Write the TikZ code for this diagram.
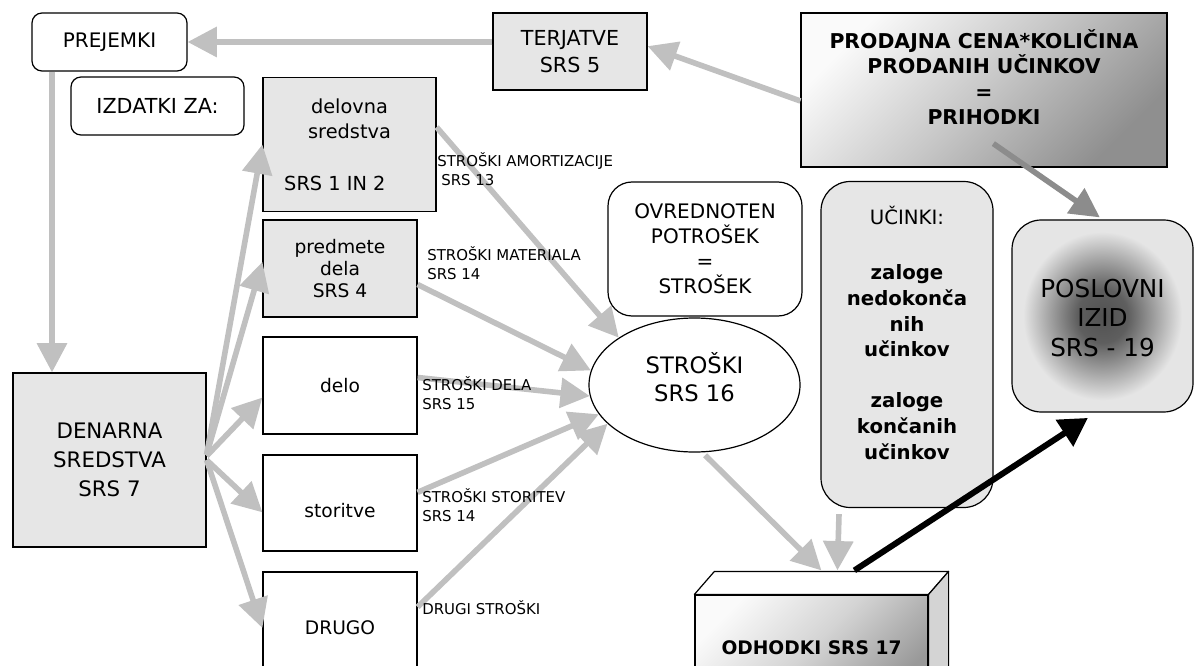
\documentclass[tikz,border=0pt]{standalone}
\usepackage{fontspec}
\setmainfont{DejaVu Sans}
\usetikzlibrary{arrows.meta,shapes.geometric,calc}
\definecolor{boxgray}{HTML}{E6E6E6}
\definecolor{arrgray}{HTML}{C0C0C0}
\definecolor{darkarr}{HTML}{8C8C8C}
\definecolor{sidegray}{HTML}{D4D4D4}
\pgfdeclareradialshading{izidshade}{\pgfpoint{0bp}{0bp}}{color(0bp)=(black!68); color(7bp)=(black!63); color(15bp)=(black!35); color(22bp)=(black!10); color(50bp)=(black!10)}
\newcommand\fsz[2]{\fontsize{#1}{#2}\selectfont}
\tikzset{
  base/.style={draw=black, line width=0.9pt, inner sep=0pt, align=center, text=black},
  gbox/.style={base, fill=boxgray},
  wbox/.style={base, fill=white},
  rbox/.style={base, fill=white, rounded corners=7.5pt},
  txt/.style={inner sep=0pt, align=center},
  flow/.style={draw=arrgray, line width=4.2pt, -{Triangle[length=22pt,width=22pt]}},
  flowdark/.style={flow, draw=darkarr},
  flowblack/.style={draw=black, line width=4.5pt, -{Triangle[length=21pt,width=23pt]}},
  lbl/.style={anchor=north west, align=left, inner sep=0pt, font=\fsz{11.2}{14.3}},
}
\begin{document}
\begin{tikzpicture}[x=0.75pt,y=-0.75pt]
\useasboundingbox (0,0) rectangle (1194,666);
\clip (0,0) rectangle (1194,666);
\fill[white] (0,0) rectangle (1194,666);

% boxes
\node[rbox, minimum width=116.25pt, minimum height=43.5pt, font=\fsz{15}{19}] (prej) at (109.5,42) {PREJEMKI};
\node[rbox, minimum width=129.75pt, minimum height=43.5pt, font=\fsz{15.5}{19}] (izd) at (157.5,106) {IZDATKI ZA:};
\node[gbox, minimum width=115.5pt, minimum height=57.75pt, font=\fsz{15.5}{20}] (terj) at (570,51.5) {TERJATVE\\SRS 5};
\node[base, top color=black!2, bottom color=black!44, middle color=black!22, shading angle=45, minimum width=274.5pt, minimum height=115.5pt] (prod) at (984,90) {};
\node[txt, font=\bfseries\fsz{15.3}{19.1}] (prodt) at (984,77) {PRODAJNA CENA*KOLIČINA\\PRODANIH UČINKOV\\=\\PRIHODKI};

\node[gbox, minimum width=129.75pt, minimum height=100.5pt, font=\fsz{14.5}{18.75}] (delov) at (349.5,144.5) {delovna\\sredstva\\[20pt]SRS 1 IN 2\hspace*{22pt}};
\node[gbox, minimum width=115.5pt, minimum height=72.75pt, font=\fsz{14}{16.5}] (pred) at (340,268.5) {predmete\\dela\\SRS 4};
\node[wbox, minimum width=115.5pt, minimum height=72.75pt, font=\fsz{14}{16.5}] (delo) at (340,385.5) {delo};
\node[wbox, minimum width=115.5pt, minimum height=72pt, font=\fsz{14}{16.5}] (stor) at (340,503) {\raisebox{-10.5pt}[0pt][0pt]{storitve}};
\node[wbox, minimum width=115.5pt, minimum height=84pt, font=\fsz{14}{16.5}] (drugo) at (340,628) {DRUGO};
\node[gbox, minimum width=144.75pt, minimum height=130.5pt, font=\fsz{16}{22}] (denar) at (109.5,460) {DENARNA\\SREDSTVA\\SRS 7};

\node[base, fill=white, rounded corners=18pt, minimum width=145.5pt, minimum height=100.5pt, font=\fsz{15}{18.75}] (ovr) at (705,249) {OVREDNOTEN\\POTROŠEK\\=\\STROŠEK};
\node[base, ellipse, fill=white, minimum width=158.25pt, minimum height=100.5pt] (str) at (694.5,385) {};
\node[txt, font=\fsz{17}{21}] (strt) at (694.5,377) {STROŠKI\\SRS 16};

\node[base, fill=boxgray, rounded corners=22pt, minimum width=129pt, minimum height=244.5pt] (ucin) at (907,344.5) {};
\node[txt, font=\fsz{14.8}{19.3}] (ucint) at (907,333) {UČINKI:\\[22pt]\textbf{zaloge}\\\textbf{nedokonča}\\\textbf{nih}\\\textbf{učinkov}\\[19pt]\textbf{zaloge}\\\textbf{končanih}\\\textbf{učinkov}};

\node[base, rounded corners=22pt, shade, shading=izidshade, minimum width=135.75pt, minimum height=144pt] (izid) at (1102.5,316) {};
\node[txt, font=\fsz{18.5}{22}] (izidt) at (1102.5,318) {POSLOVNI\\IZID\\SRS - 19};

% 3D box ODHODKI
\node[base, top color=black!2, bottom color=black!40, middle color=black!17, shading angle=45, minimum width=174.75pt, minimum height=79.5pt, font=\bfseries\fsz{14}{16}] (odh) at (811.5,648) {ODHODKI SRS 17};
\draw[line width=0.9pt, fill=white, line join=round] (odh.north west) -- ++(20,-23) -- ($(odh.north east)+(20,-23)$) -- (odh.north east) -- cycle;
\draw[line width=0.9pt, fill=sidegray, line join=round] (odh.north east) -- ++(20,-23) -- ++(0,106) -- (odh.south east) -- cycle;

% connectors
\coordinate (pd) at ($(prej.south)+(-57.5,0)$);
\draw[flow] (terj.west |- prej.east) -- (prej.east);
\draw[flow] ([yshift=-8.25pt]prod.west) -- ([yshift=4pt]terj.east);
\draw[flow] (pd) -- (pd |- denar.north);

\draw[flow] ([yshift=4pt]denar.east) -- (delov.west);
\draw[flow] ([yshift=4pt]denar.east) -- ([yshift=5pt]pred.west);
\draw[flow] ([yshift=3pt]denar.east) -- ([yshift=-9pt]delo.west);
\draw[flow] (denar.east) -- ([yshift=-7pt]stor.west);
\draw[flow] (denar.east) -- (drugo.west);

\draw[flow] ([yshift=13pt]delov.east) -- (str.148);
\draw[flow] ([yshift=-12pt]pred.east) -- (str.172);
\draw[flow] ([yshift=6pt]delo.east) -- (str.186);
\draw[flow] ([yshift=8pt]stor.east) -- (str.197);
\draw[flow] ([yshift=15.75pt]drugo.east) -- (str.204);

\draw[flow] ([xshift=8pt,yshift=-2pt]str.south) -- ($(odh.north west)+(127,-24)$);
\draw[flow] ([xshift=-51pt,yshift=-4.5pt]ucin.south) -- ($(odh.north west)+(143,-24)$);
\draw[flowblack] ($(odh.north west)+(160,-24)$) -- ([xshift=-11pt,yshift=-4pt]izid.south);
\draw[flowdark] ([xshift=7pt,yshift=18pt]prod.south) -- ([xshift=-2pt,yshift=1.5pt]izid.north);

% labels
\node[lbl] (lamort) at (437,152) {STROŠKI AMORTIZACIJE\\\hspace*{3pt}SRS 13};
\node[lbl] (lmat) at (427,246) {STROŠKI MATERIALA\\SRS 14};
\node[lbl] (ldela) at (422,376) {STROŠKI DELA\\SRS 15};
\node[lbl] (lstor) at (422,488) {STROŠKI STORITEV\\SRS 14};
\node[lbl] (ldrug) at (422,600) {DRUGI STROŠKI};
\end{tikzpicture}
\end{document}
